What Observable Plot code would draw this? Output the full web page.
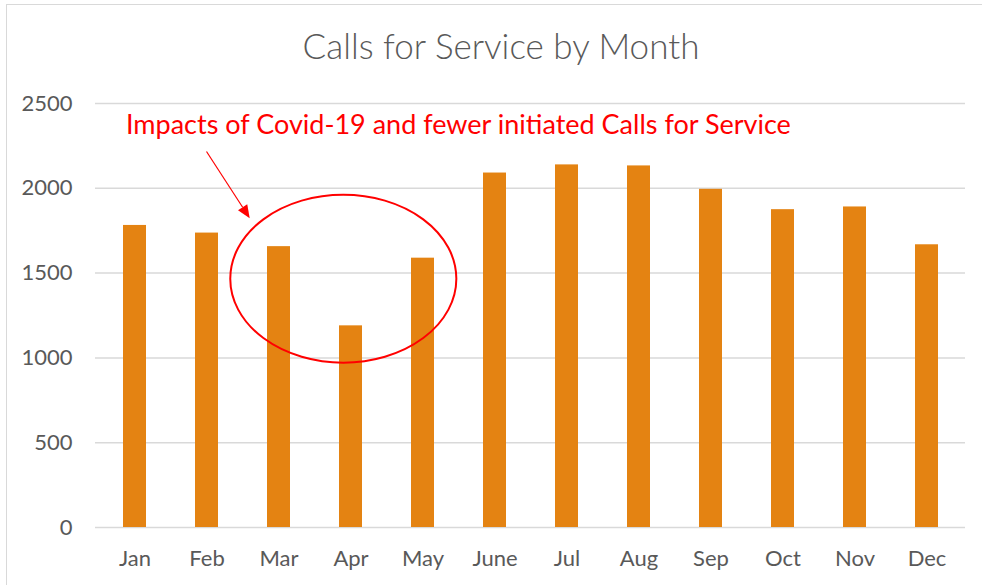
<!DOCTYPE html>
<html>
<head>
<meta charset="utf-8">
<script src="https://cdn.jsdelivr.net/npm/d3@7"></script>
<script src="https://cdn.jsdelivr.net/npm/@observablehq/plot@0.6"></script>
<style>
  html, body { margin: 0; padding: 0; background: #fff; overflow: hidden; width: 982px; height: 585px; }
  #frame { position: absolute; left: 6px; top: 4px; width: 1000px; height: 600px; border-left: 1.5px solid #d9d9d9; border-top: 1.5px solid #d9d9d9; }
  #wrap { position: relative; }
  #title { position: relative; height: 80px; }
  #title div { position: absolute; top: 28px; left: 0; width: 1002px; text-align: center; font-family: Lato, "Open Sans", sans-serif; font-weight: 300; font-size: 35px; line-height: 35px; color: #595959; }
</style>
</head>
<body>
<div id="frame"></div>
<div id="wrap">
  <div id="title"><div>Calls for Service by Month</div></div>
  <div id="chart"></div>
</div>
<script>
const months = ["Jan", "Feb", "Mar", "Apr", "May", "June", "Jul", "Aug", "Sep", "Oct", "Nov", "Dec"];
const calls = [1781, 1736, 1656, 1189, 1588, 2090, 2138, 2132, 1994, 1874, 1890, 1667];
const yTicks = [0, 500, 1000, 1500, 2000, 2500];

const noteText = "Impacts of Covid-19 and fewer initiated Calls for Service";
const noteMonth = "Jan";
const noteValue = 2372;

// annotation ellipse around Mar–May, in data terms
const ellipseMonth = "Apr";
const ellipseShift = -0.1;      // in band steps
const ellipseValue = 1464;
const ellipseHalfSteps = 1.57;  // half width in band steps
const ellipseHalfValue = 495;   // half height in value units

// arrow from the note toward the ellipse
const arrowFromMonth = "Feb", arrowFromShift = 0, arrowFromValue = 2214;
const arrowToMonth = "Feb", arrowToShift = 0.6, arrowToValue = 1821;

const data = months.map((m, i) => ({month: m, calls: calls[i]}));
const font = 'Lato, "Open Sans", sans-serif';

function ellipseMark(index, scales) {
  const x = scales.x, y = scales.y;
  const step = x.step(), bw = x.bandwidth();
  const cx = x(ellipseMonth) + bw / 2 + ellipseShift * step;
  const cy = y(ellipseValue);
  const rx = ellipseHalfSteps * step;
  const ry = Math.abs(y(ellipseValue - ellipseHalfValue) - cy);
  const g = d3.create("svg:g");
  g.append("ellipse").attr("cx", cx).attr("cy", cy).attr("rx", rx).attr("ry", ry)
    .attr("fill", "none").attr("stroke", "#ff0000").attr("stroke-width", 2);
  return g.node();
}

function arrowMark(index, scales) {
  const x = scales.x, y = scales.y;
  const step = x.step(), bw = x.bandwidth();
  const x1 = x(arrowFromMonth) + bw / 2 + arrowFromShift * step, y1 = y(arrowFromValue);
  const x2 = x(arrowToMonth) + bw / 2 + arrowToShift * step, y2 = y(arrowToValue);
  const dx = x2 - x1, dy = y2 - y1, len = Math.hypot(dx, dy);
  const ux = dx / len, uy = dy / len;
  const headL = 13, headW = 5.5;
  const bx = x2 - ux * headL, by = y2 - uy * headL;
  const g = d3.create("svg:g");
  g.append("line").attr("x1", x1).attr("y1", y1).attr("x2", bx).attr("y2", by)
    .attr("stroke", "#ff0000").attr("stroke-width", 1.2);
  g.append("path")
    .attr("d", `M${x2},${y2}L${bx - uy * headW},${by + ux * headW}L${bx + uy * headW},${by - ux * headW}Z`)
    .attr("fill", "#ff0000");
  return g.node();
}

const chart = Plot.plot({
  width: 982,
  height: 505,
  marginTop: 23,
  marginBottom: 58,
  marginLeft: 95,
  marginRight: 17,
  style: {fontFamily: font, color: "#595959", background: "transparent", overflow: "visible"},
  x: {domain: months, paddingInner: 0.687, paddingOuter: 0.3435, align: 0.5, label: null},
  y: {domain: [0, 2500], label: null},
  marks: [
    Plot.gridY(yTicks, {stroke: "#d9d9d9", strokeOpacity: 1, strokeWidth: 1.5}),
    Plot.barY(data, {x: "month", y: "calls", fill: "#e48312"}),
    Plot.axisY(yTicks, {tickSize: 0, tickPadding: 23, fontSize: 22, label: null, tickFormat: d => String(d)}),
    Plot.axisX({tickSize: 0, tickPadding: 23, fontSize: 22, label: null}),
    Plot.text([noteText], {x: () => noteMonth, y: () => noteValue, text: d => d, fill: "#ff0000", fontSize: 27, textAnchor: "start", dx: -9, fontFamily: font}),
    ellipseMark,
    arrowMark
  ]
});
document.getElementById("chart").appendChild(chart);
</script>
</body>
</html>
